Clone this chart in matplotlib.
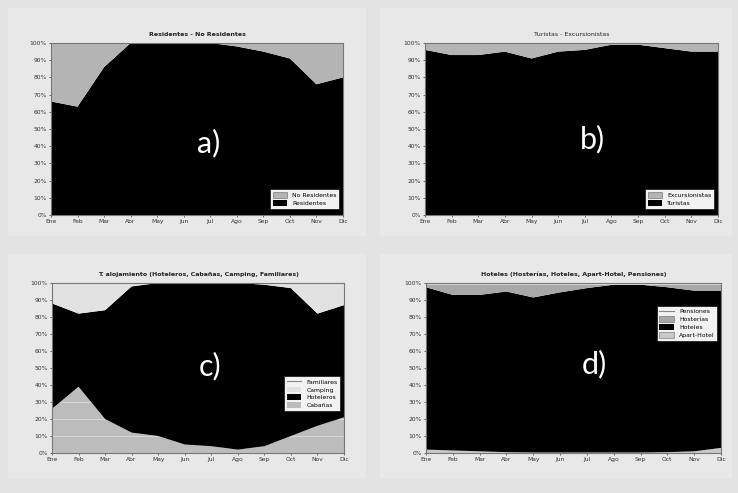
import matplotlib
matplotlib.use("Agg")
import matplotlib.pyplot as plt
import numpy as np
from matplotlib.lines import Line2D
from matplotlib.patches import Patch, Rectangle
from matplotlib.ticker import PercentFormatter, MultipleLocator

# Month labels (Spanish)
meses = ["Ene", "Feb", "Mar", "Abr", "May", "Jun", "Jul", "Ago", "Sep", "Oct", "Nov", "Dic"]

# a) share of residents vs non-residents (%)
residentes = [66, 63, 86, 100, 100, 100, 100, 98, 95, 91, 76, 80]
no_residentes = [34, 37, 14, 0, 0, 0, 0, 2, 5, 9, 24, 20]

# b) tourists vs day visitors (%)
turistas = [96, 93, 93, 95, 91, 95, 96, 99, 99, 97, 95, 95]
excursionistas = [4, 7, 7, 5, 9, 5, 4, 1, 1, 3, 5, 5]

# c) type of accommodation (%)
casas_flia = [26, 39, 20, 12, 10, 5, 4, 2, 4, 10, 16, 21]
hoteleros = [62, 43, 64, 86, 90, 95, 96, 98, 95, 87, 66, 66]
camping = [12, 18, 16, 2, 0, 0, 0, 0, 1, 3, 18, 13]
otros_c = [0, 0, 0, 0, 0, 0, 0, 0, 0, 0, 0, 0]

# d) hotel category (%)
apart = [2, 1.5, 1, 0.5, 0.3, 0.3, 0.3, 0.3, 0.3, 0.5, 1, 3]
hoteles = [95.5, 91.5, 92, 94.5, 91.2, 94.2, 96.7, 98.7, 98.7, 97, 94.5, 92.5]
hosterias = [1.5, 6, 6, 4, 7.5, 4.5, 2, 0, 0, 1.5, 3.5, 3.5]
pensiones = [1, 1, 1, 1, 1, 1, 1, 1, 1, 1, 1, 1]

titulos = [
    "Residentes - No Residentes",
    "Turistas - Excursionistas",
    "T. alojamiento (Hoteleros, Cabañas, Camping, Familiares)",
    "Hoteles (Hosterías, Hoteles, Apart-Hotel, Pensiones)",
]

W, H = 738, 493
BG = "#e3e3e3"
fig = plt.figure(figsize=(W / 100, H / 100), dpi=100, facecolor=BG)

# light card behind each chart
for (x0, y0, x1, y1) in [(8, 8, 366, 236), (380, 8, 732, 236), (8, 254, 366, 478), (380, 254, 732, 478)]:
    fig.patches.append(Rectangle((x0 / W, 1 - y1 / H), (x1 - x0) / W, (y1 - y0) / H,
                                 transform=fig.transFigure, facecolor="#e8e8e8",
                                 edgecolor="none", zorder=-5))


def make_ax(x0, x1, y0, y1):
    return fig.add_axes([x0 / W, 1 - y1 / H, (x1 - x0) / W, (y1 - y0) / H], zorder=2)


def style(ax, title, bold=True):
    ax.set_xlim(0, len(meses) - 1)
    ax.set_ylim(0, 100)
    ax.set_xticks(np.arange(len(meses)))
    ax.set_xticklabels(meses)
    ax.yaxis.set_major_locator(MultipleLocator(10))
    ax.yaxis.set_major_formatter(PercentFormatter(decimals=0))
    ax.tick_params(labelsize=4.3, colors="#333333", length=1.5, width=0.5, pad=1.5)
    for s in ax.spines.values():
        s.set_color("#777777")
        s.set_linewidth(0.8)
    ax.set_title(title, fontsize=4.5, fontweight="bold" if bold else "normal",
                 color="#222222", pad=5)


def letter(ax, txt, xa, ya):
    ax.text(xa, ya, txt, transform=ax.transAxes, color="white", fontsize=22,
            family=["Lato", "DejaVu Sans"], ha="center", va="center", zorder=10)


def legend(ax, handles, **kw):
    leg = ax.legend(handles=handles, fontsize=4.4, frameon=True, fancybox=False,
                    framealpha=1.0, handlelength=2.4, handleheight=1.1,
                    borderpad=0.45, labelspacing=0.3, **kw)
    leg.get_frame().set_edgecolor("#222222")
    leg.get_frame().set_facecolor("#f2f2f2")
    leg.get_frame().set_linewidth(0.6)
    leg.set_zorder(8)
    return leg


x = np.arange(len(meses))

# a)
ax = make_ax(51, 343, 43, 215)
ax.stackplot(x, residentes, no_residentes, colors=["black", "#b4b4b4"])
style(ax, titulos[0])
legend(ax, [Patch(facecolor="#b4b4b4", edgecolor="#666666", lw=0.4, label="No Residentes"),
            Patch(facecolor="black", label="Residentes")],
       loc="lower right", bbox_to_anchor=(0.998, 0.02))
letter(ax, "a)", 0.54, 0.42)

# b)
ax = make_ax(425, 718, 43, 215)
ax.stackplot(x, turistas, excursionistas, colors=["black", "#b4b4b4"])
style(ax, titulos[1], bold=False)
legend(ax, [Patch(facecolor="#b4b4b4", edgecolor="#666666", lw=0.4, label="Excursionistas"),
            Patch(facecolor="black", label="Turistas")],
       loc="lower right", bbox_to_anchor=(0.998, 0.02))
letter(ax, "b)", 0.57, 0.44)

# c)
ax = make_ax(52, 344, 283, 453)
polys = ax.stackplot(x, casas_flia, hoteleros, camping, otros_c,
                     colors=["#bcbcbc", "black", "#e2e2e2", "#999999"])
polys[0].set_zorder(0.3)
for p in polys[1:]:
    p.set_zorder(1)
total_c = np.sum([casas_flia, hoteleros, camping, otros_c], axis=0)
ax.plot(x, total_c, color="#999999", lw=0.5, zorder=1.2)
ax.set_axisbelow(True)
ax.grid(axis="y", color="#d6d6d6", lw=0.8)
style(ax, titulos[2])
legend(ax, [Line2D([], [], color="#888888", lw=0.8, label="Familiares"),
            Patch(facecolor="#e2e2e2", edgecolor="none", label="Camping"),
            Patch(facecolor="black", label="Hoteleros"),
            Patch(facecolor="#bcbcbc", edgecolor="none", label="Cabañas")],
       loc="center right", bbox_to_anchor=(0.998, 0.35))
letter(ax, "c)", 0.54, 0.51)

# d)
ax = make_ax(426, 721, 283, 453)
ax.stackplot(x, apart, hoteles, hosterias, pensiones,
             colors=["#c8c8c8", "black", "#a8a8a8", "#d8d8d8"])
style(ax, titulos[3])
legend(ax, [Line2D([], [], color="#888888", lw=0.8, label="Pensiones"),
            Patch(facecolor="#a8a8a8", edgecolor="#666666", lw=0.4, label="Hosterías"),
            Patch(facecolor="black", label="Hoteles"),
            Patch(facecolor="#c8c8c8", edgecolor="#666666", lw=0.4, label="Apart-Hotel")],
       loc="upper right", bbox_to_anchor=(0.998, 0.885))
letter(ax, "d)", 0.57, 0.52)

fig.savefig("out.png", dpi=100, facecolor=BG)
